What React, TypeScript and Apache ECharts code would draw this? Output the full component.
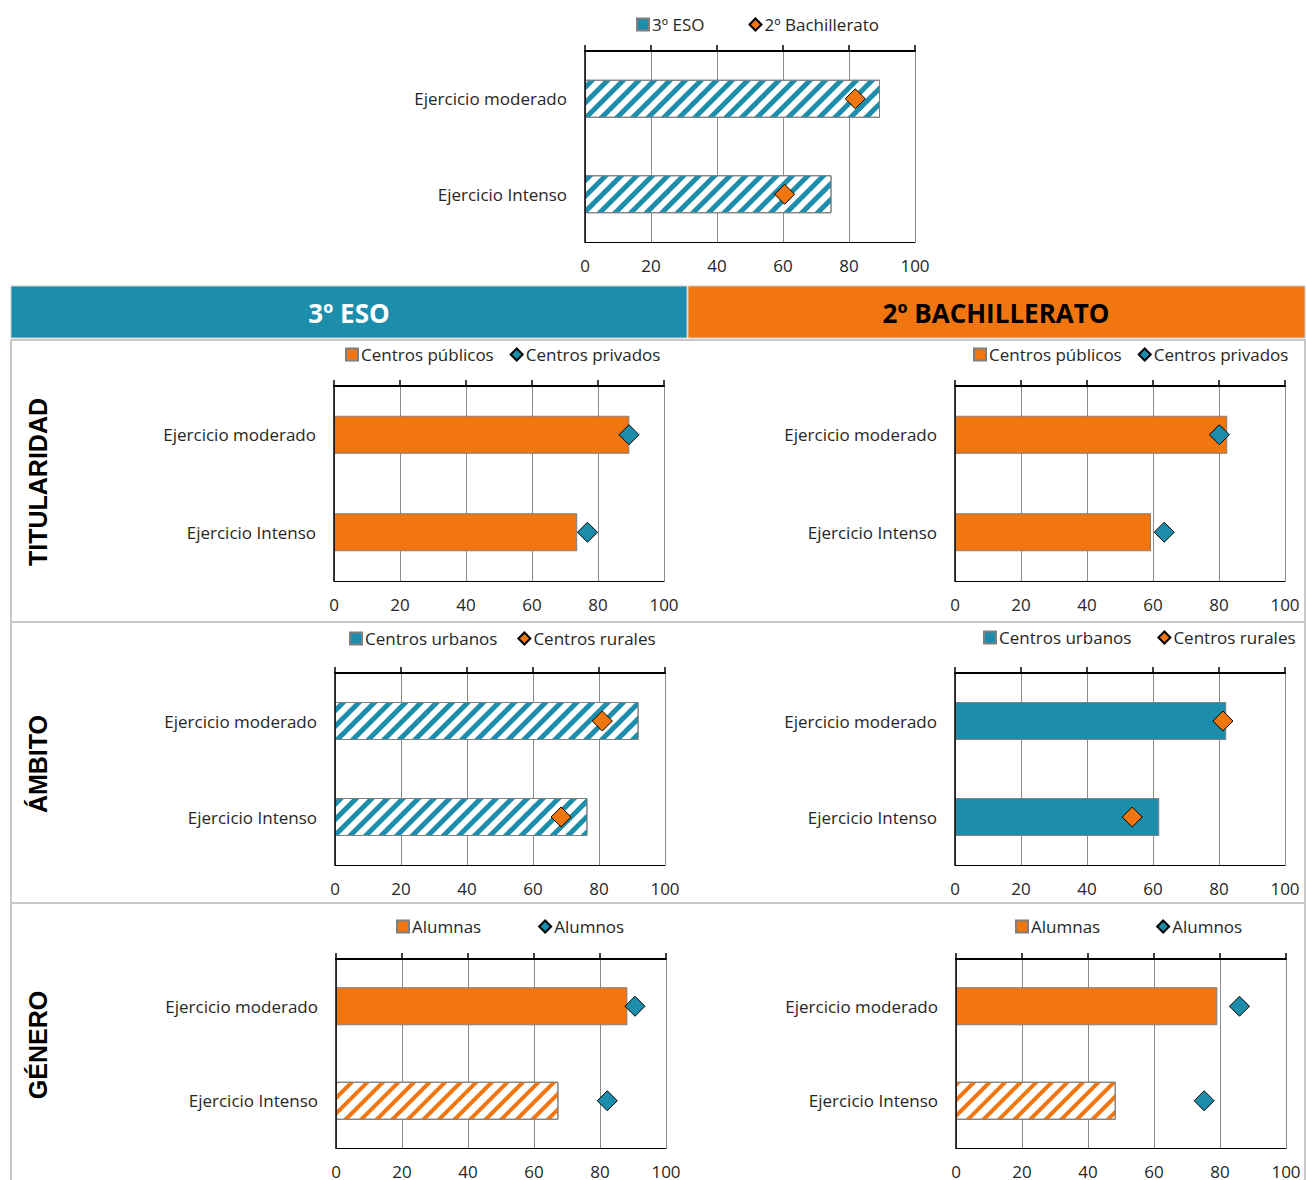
import React, { useEffect, useRef } from 'react';
import * as echarts from 'echarts';

// ---------- data ----------
const categories = ['Ejercicio moderado', 'Ejercicio Intenso'];
const headerLabels = ['3º ESO', '2º BACHILLERATO'];
const rowLabels = ['TITULARIDAD', 'ÁMBITO', 'GÉNERO'];

const overallNames = ['3º ESO', '2º Bachillerato'];
const overallEso = [89.4, 74.7];
const overallBach = [81.9, 60.5];

const titularidadNames = ['Centros públicos', 'Centros privados'];
const titEsoPublicos = [89.5, 73.7];
const titEsoPrivados = [89.4, 76.8];
const titBachPublicos = [82.5, 59.4];
const titBachPrivados = [80.1, 63.4];

const ambitoNames = ['Centros urbanos', 'Centros rurales'];
const ambEsoUrbanos = [92.0, 76.5];
const ambEsoRurales = [81.0, 68.5];
const ambBachUrbanos = [82.2, 61.9];
const ambBachRurales = [81.2, 53.7];

const generoNames = ['Alumnas', 'Alumnos'];
const genEsoAlumnas = [88.3, 67.4];
const genEsoAlumnos = [90.6, 82.2];
const genBachAlumnas = [79.2, 48.4];
const genBachAlumnos = [85.9, 75.2];

// ---------- styling ----------
const TEAL = '#1C8DAA';
const ORANGE = '#F2760F';
const FONT = '"Open Sans", sans-serif';
const TXT = '#262626';

const stripe = (color: string, on: number, off: number) => ({
  symbol: 'rect',
  symbolSize: 1,
  dashArrayX: [1, 0],
  dashArrayY: [on, off],
  rotation: -Math.PI / 4,
  color,
});

type Panel = {
  grid: { left: number; top: number; width: number; height: number };
  legend: { left: number; top: number; gap: number };
  names: string[];
  bars: number[];
  barColor: string;
  hatched: boolean[];
  dots: number[];
  dotColor: string;
};

const panels: Panel[] = [
  {
    grid: { left: 585, top: 51, width: 330, height: 191 },
    legend: { left: 631, top: 11, gap: 44 },
    names: overallNames, bars: overallEso, barColor: TEAL, hatched: [true, true],
    dots: overallBach, dotColor: ORANGE,
  },
  {
    grid: { left: 334, top: 386, width: 330, height: 195 },
    legend: { left: 340, top: 341, gap: 16 },
    names: titularidadNames, bars: titEsoPublicos, barColor: ORANGE, hatched: [false, false],
    dots: titEsoPrivados, dotColor: TEAL,
  },
  {
    grid: { left: 955, top: 386, width: 330, height: 195 },
    legend: { left: 968, top: 341, gap: 16 },
    names: titularidadNames, bars: titBachPublicos, barColor: ORANGE, hatched: [false, false],
    dots: titBachPrivados, dotColor: TEAL,
  },
  {
    grid: { left: 335, top: 673, width: 330, height: 192 },
    legend: { left: 344, top: 625, gap: 20 },
    names: ambitoNames, bars: ambEsoUrbanos, barColor: TEAL, hatched: [true, true],
    dots: ambEsoRurales, dotColor: ORANGE,
  },
  {
    grid: { left: 955, top: 673, width: 330, height: 192 },
    legend: { left: 978, top: 624, gap: 26 },
    names: ambitoNames, bars: ambBachUrbanos, barColor: TEAL, hatched: [false, false],
    dots: ambBachRurales, dotColor: ORANGE,
  },
  {
    grid: { left: 336, top: 959, width: 330, height: 192 },
    legend: { left: 391, top: 913, gap: 57 },
    names: generoNames, bars: genEsoAlumnas, barColor: ORANGE, hatched: [false, true],
    dots: genEsoAlumnos, dotColor: TEAL,
  },
  {
    grid: { left: 956, top: 959, width: 330, height: 192 },
    legend: { left: 1010, top: 913, gap: 56 },
    names: generoNames, bars: genBachAlumnas, barColor: ORANGE, hatched: [false, true],
    dots: genBachAlumnos, dotColor: TEAL,
  },
];

function buildOption() {
  const xAxis: any[] = [];
  const yAxis: any[] = [];
  const series: any[] = [];
  const legend: any[] = [];

  panels.forEach((p, i) => {
    xAxis.push({
      type: 'value', gridIndex: i, position: 'top', min: 0, max: 100, interval: 20,
      axisLine: { show: true, lineStyle: { color: '#000', width: 2 } },
      axisTick: { show: true, inside: false, length: 6, lineStyle: { color: '#000', width: 1.5 } },
      axisLabel: { show: false },
      splitLine: { show: true, lineStyle: { color: '#8c8c8c', width: 1 } },
    });
    xAxis.push({
      type: 'value', gridIndex: i, position: 'bottom', min: 0, max: 100, interval: 20,
      axisLine: { show: true, lineStyle: { color: '#000', width: 1.2 } },
      axisTick: { show: false },
      axisLabel: { color: TXT, fontSize: 17, fontFamily: FONT, margin: 15 },
      splitLine: { show: false },
    });
    yAxis.push({
      type: 'category', gridIndex: i, data: categories, inverse: true, z: 5,
      axisLine: { show: true, lineStyle: { color: '#000', width: 1.5 } },
      axisTick: { show: false },
      axisLabel: { color: TXT, fontSize: 17, fontFamily: FONT, margin: 18 },
      splitLine: { show: false },
    });
    const stripeColor = p.barColor;
    series.push({
      type: 'bar', name: p.names[0], xAxisIndex: 2 * i + 1, yAxisIndex: i, barWidth: 38,
      itemStyle: { color: p.barColor, borderColor: '#7f7f7f', borderWidth: 1 },
      data: p.bars.map((v, k) =>
        p.hatched[k]
          ? {
              value: v,
              itemStyle: {
                color: '#ffffff',
                decal: stripeColor === TEAL ? stripe(TEAL, 5, 5.5) : stripe(ORANGE, 4, 6.5),
              },
            }
          : v
      ),
      z: 2,
    });
    series.push({
      type: 'scatter', name: p.names[1], xAxisIndex: 2 * i + 1, yAxisIndex: i,
      symbol: 'diamond', symbolSize: 20,
      itemStyle: { color: p.dotColor, borderColor: '#000', borderWidth: 1, opacity: 1 },
      data: p.dots.map((v, k) => [v, k]),
      z: 3,
    });
    legend.push({
      left: p.legend.left, top: p.legend.top, itemGap: p.legend.gap,
      itemWidth: 12, itemHeight: 12, selectedMode: false,
      textStyle: { fontSize: 17, color: TXT, fontFamily: FONT, padding: [0, 0, 0, -2] },
      data: [
        { name: p.names[0], icon: 'rect' },
        { name: p.names[1], icon: 'diamond' },
      ],
    });
  });

  const rowCenters = [482, 764, 1045];
  const graphic: any[] = [
    {
      type: 'rect', z: 0, shape: { x: 11, y: 286, width: 676, height: 52 },
      style: { fill: TEAL, stroke: '#cfcfcf', lineWidth: 1 },
    },
    {
      type: 'rect', z: 0, shape: { x: 688, y: 286, width: 617, height: 52 },
      style: { fill: ORANGE, stroke: '#cfcfcf', lineWidth: 1 },
    },
    {
      type: 'text', z: 1, x: 349, y: 313,
      style: {
        text: headerLabels[0], fill: '#ffffff', fontSize: 26, fontWeight: 'bold', fontFamily: FONT,
        textAlign: 'center', textVerticalAlign: 'middle',
      },
    },
    {
      type: 'text', z: 1, x: 996, y: 313,
      style: {
        text: headerLabels[1], fill: '#000000', fontSize: 26, fontWeight: 'bold', fontFamily: FONT,
        textAlign: 'center', textVerticalAlign: 'middle',
      },
    },
    {
      type: 'rect', z: 0, shape: { x: 11, y: 340, width: 1294, height: 282 },
      style: { fill: 'none', stroke: '#c8c8c8', lineWidth: 2 },
    },
    {
      type: 'rect', z: 0, shape: { x: 11, y: 622, width: 1294, height: 281 },
      style: { fill: 'none', stroke: '#c8c8c8', lineWidth: 2 },
    },
    {
      type: 'rect', z: 0, shape: { x: 11, y: 903, width: 1294, height: 300 },
      style: { fill: 'none', stroke: '#c8c8c8', lineWidth: 2 },
    },
    ...rowLabels.map((t, k) => ({
      type: 'text', z: 1, x: 38, y: rowCenters[k], rotation: Math.PI / 2,
      style: {
        text: t, fill: '#000000', fontSize: 25, fontWeight: 'bold',
        fontFamily: '"Liberation Sans", Arial, sans-serif',
        textAlign: 'center', textVerticalAlign: 'middle',
      },
    })),
  ];

  return {
    animation: false,
    backgroundColor: '#ffffff',
    textStyle: { fontFamily: FONT },
    graphic,
    grid: panels.map((p) => ({ ...p.grid, containLabel: false })),
    xAxis,
    yAxis,
    legend,
    series,
  };
}

export default function App() {
  const ref = useRef<HTMLDivElement>(null);
  useEffect(() => {
    document.body.style.margin = '0';
    const chart = echarts.init(ref.current!, undefined, { renderer: 'svg' });
    chart.setOption(buildOption() as any);
    return () => chart.dispose();
  }, []);
  return <div ref={ref} style={{ width: 1306, height: 1180 }} />;
}
